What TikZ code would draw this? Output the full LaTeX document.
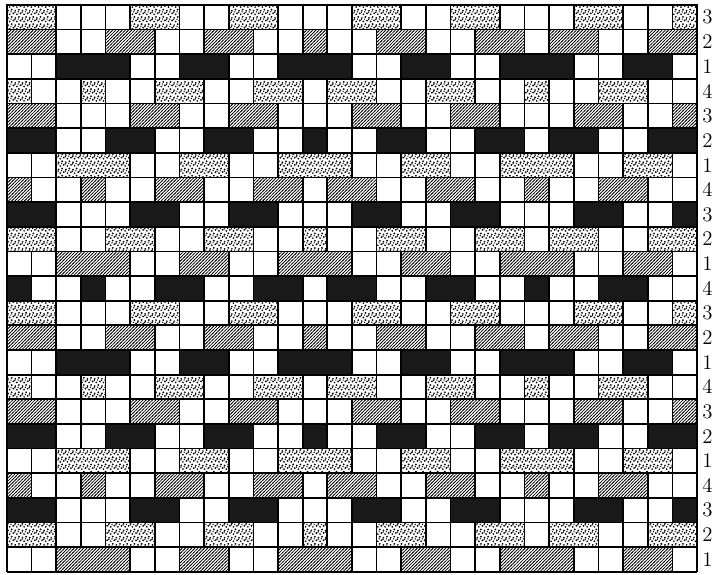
\documentclass[tikz,border=0pt]{standalone}
\usetikzlibrary{patterns}

% dense hatching and a loose stipple, as in the drawn draft
\pgfdeclarepatternformonly{weavehatch}{\pgfpoint{-1pt}{-1pt}}{\pgfpoint{3.2pt}{3.2pt}}{\pgfpoint{2.2pt}{2.2pt}}{
  \pgfsetlinewidth{0.45pt}
  \pgfpathmoveto{\pgfpoint{-0.5pt}{-0.5pt}}
  \pgfpathlineto{\pgfpoint{2.7pt}{2.7pt}}
  \pgfusepath{stroke}}
\pgfdeclarepatternformonly{weavedots}{\pgfpoint{-1pt}{-1pt}}{\pgfpoint{6pt}{6pt}}{\pgfpoint{5pt}{5pt}}{
  \pgfpathcircle{\pgfpoint{0.6pt}{0.7pt}}{0.65pt}
  \pgfpathcircle{\pgfpoint{3.1pt}{1.4pt}}{0.7pt}
  \pgfpathcircle{\pgfpoint{1.7pt}{3.2pt}}{0.65pt}
  \pgfpathcircle{\pgfpoint{4.2pt}{3.9pt}}{0.7pt}
  \pgfpathcircle{\pgfpoint{0.3pt}{4.6pt}}{0.55pt}
  \pgfpathcircle{\pgfpoint{2.6pt}{4.9pt}}{0.5pt}
  \pgfusepath{fill}}

\tikzset{
  gridline/.style={line width=1.2pt},
  dotcell/.style={draw, line width=1.2pt, preaction={fill=white}, pattern=weavedots},
  hatchcell/.style={draw, line width=1.2pt, preaction={fill=white}, pattern=weavehatch},
  solidcell/.style={draw, line width=1.2pt, fill=black!90},
  treadlenum/.style={font=\Large, inner sep=0pt}
}

% raised blocks (first/last column) for each treadle
\newcommand{\treadlei}{3/5,8/9,12/14,17/18,21/23,26/27}
\newcommand{\treadleii}{1/2,5/6,9/10,13/13,16/17,20/21,23/24,27/28}
\newcommand{\treadleiii}{1/2,6/7,10/11,15/16,19/20,24/25,28/28}
\newcommand{\treadleiv}{1/1,4/4,7/8,11/12,14/15,18/19,22/22,25/26}

\begin{document}
\begin{tikzpicture}[x=0.6cm, y=0.6cm]
\useasboundingbox (-0.28,-0.12) rectangle (28.73,23.2);

%%% --- Draft Grid --- %%%
\fill[white] (0,0) rectangle (28,23);

% vertical lines
\foreach \x in {0,...,28}
  \draw[gridline] (\x,0) -- (\x,23);

% horizontal lines
\foreach \y in {0,...,23}
  \draw[gridline] (0,\y) -- (28,\y);

%%% --- Weft Rows --- %%%
\foreach \r/\n/\f in {1/3/dotcell, 2/2/hatchcell, 3/1/solidcell, 4/4/dotcell,
                      5/3/hatchcell, 6/2/solidcell, 7/1/dotcell, 8/4/hatchcell,
                      9/3/solidcell, 10/2/dotcell, 11/1/hatchcell, 12/4/solidcell,
                      13/3/dotcell, 14/2/hatchcell, 15/1/solidcell, 16/4/dotcell,
                      17/3/hatchcell, 18/2/solidcell, 19/1/dotcell, 20/4/hatchcell,
                      21/3/solidcell, 22/2/dotcell, 23/1/hatchcell}{
  \expandafter\let\expandafter\runs\csname treadle\romannumeral\n\endcsname
  \foreach \a/\b in \runs
    \draw[\f] (\a-1,23-\r) rectangle (\b,24-\r);
  % treadle number
  \node[treadlenum] (tr\r) at (28.42,23.5-\r) {\n};
}

\end{tikzpicture}
\end{document}
